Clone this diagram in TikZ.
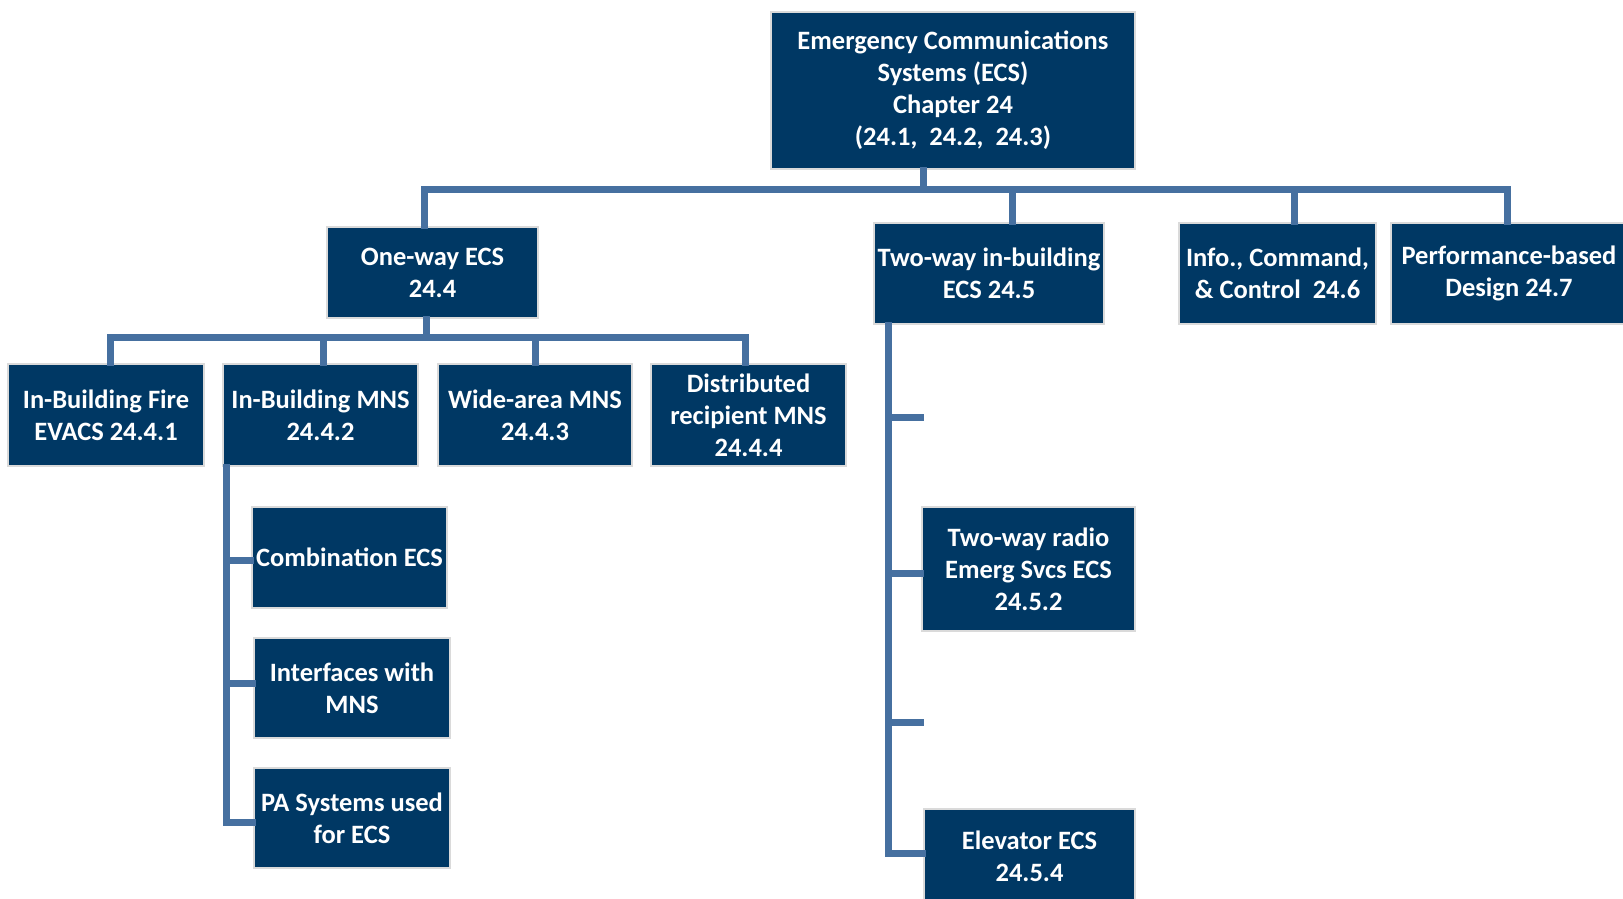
\documentclass[tikz,border=0pt]{standalone}
\usepackage{fontspec}
\setmainfont{Carlito}
\definecolor{navy}{RGB}{0,56,100}
\definecolor{linkblue}{RGB}{70,112,160}
\definecolor{rim}{RGB}{218,218,218}
\begin{document}
\begin{tikzpicture}[x=1pt,y=-1pt,
  box/.style={fill=navy,draw=rim,line width=2.5pt,inner sep=0pt,align=center,text=white,
    font=\fontsize{26.5}{32}\selectfont\bfseries},
  conn/.style={draw=linkblue,line width=7pt,line join=miter,line cap=rect}]
\useasboundingbox (0,0) rectangle (1623,899);
\clip (0,0) rectangle (1623,899);
% level 0
\node[box,minimum width=364,minimum height=157] (root) at (953,90.5)
  {Emergency Communications\\Systems (ECS)\\Chapter 24\\(24.1,\ \ 24.2,\ \ 24.3)};
% level 1
\node[box,minimum width=211,minimum height=91] (oneway) at (432.5,272.5) {One-way ECS\\24.4};
\node[box,minimum width=230,minimum height=101] (twoway) at (989,273.5) {Two-way in-building\\ECS 24.5};
\node[box,minimum width=197,minimum height=101] (info) at (1277.5,273.5) {Info., Command,\\\&~Control\ \ 24.6};
\node[box,minimum width=236,minimum height=101] (perf) at (1509,273.5) {Performance-based\\Design 24.7};
% level 2
\node[box,minimum width=196,minimum height=102] (fire) at (106,415) {In-Building Fire\\EVACS 24.4.1};
\node[box,minimum width=195,minimum height=102] (ibmns) at (320.5,415) {In-Building MNS\\24.4.2};
\node[box,minimum width=194,minimum height=102] (wide) at (535,415) {Wide-area MNS\\24.4.3};
\node[box,minimum width=195,minimum height=102] (dist) at (748.5,415) {Distributed\\recipient MNS\\24.4.4};
% level 3 under in-building MNS
\node[box,minimum width=195,minimum height=101] (comb) at (349.5,557.5) {Combination ECS};
\node[box,minimum width=196,minimum height=100] (intf) at (352,688) {Interfaces with\\MNS};
\node[box,minimum width=196,minimum height=100] (pa) at (352,818) {PA Systems used\\for ECS};
% level 3 under two-way
\node[box,minimum width=213,minimum height=124] (radio) at (1028.5,569) {Two-way radio\\Emerg Svcs ECS\\24.5.2};
\node[box,minimum width=211,minimum height=94] (elev) at (1029.5,856) {Elevator ECS\\24.5.4};
% connector helpers
\coordinate (b0) at (923,189);
\coordinate (b1) at (426,337);
\coordinate (v1) at (226,0);
\coordinate (v2) at (888,0);
\coordinate (e1) at (920,417);
\coordinate (e2) at (920,722);
% connectors level 0 -> 1
\draw[conn] ([xshift=-30]root.south) -- (b0);
\draw[conn] ([xshift=-8.5]oneway.north) |- ([xshift=-2]perf.north |- b0) -- ([xshift=-2]perf.north);
\draw[conn] ([xshift=23]twoway.north) -- ([xshift=23]twoway.north |- b0);
\draw[conn] ([xshift=16.5]info.north) -- ([xshift=16.5]info.north |- b0);
% connectors level 1 -> 2
\draw[conn] ([xshift=-6.5]oneway.south) -- (b1);
\draw[conn] ([xshift=4]fire.north) |- ([xshift=-3.5]dist.north |- b1) -- ([xshift=-3.5]dist.north);
\draw[conn] ([xshift=2.5]ibmns.north) -- ([xshift=2.5]ibmns.north |- b1);
\draw[conn] (wide.north) -- (wide.north |- b1);
% in-building MNS branch
\draw[conn] (ibmns.south -| v1) |- ([yshift=-4]pa.west);
\draw[conn] ([yshift=-2.5]comb.west) -- ([yshift=-2.5]comb.west -| v1);
\draw[conn] ([yshift=5]intf.west) -- ([yshift=5]intf.west -| v1);
% two-way branch
\draw[conn] (twoway.south -| v2) |- ([yshift=3]elev.west);
\draw[conn] ([yshift=-4]radio.west) -- ([yshift=-4]radio.west -| v2);
\draw[conn] (e1) -- (e1 -| v2);
\draw[conn] (e2) -- (e2 -| v2);
\end{tikzpicture}
\end{document}
